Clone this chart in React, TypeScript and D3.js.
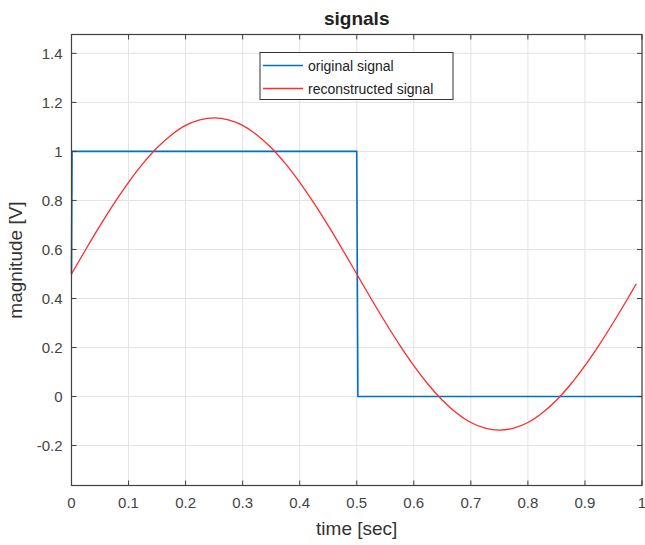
import React from 'react';
import * as d3 from 'd3';

// values
const squareT = [0, 0.001, 0.5, 0.502, 1];
const squareV = [0.5, 1, 1, 0, 0];

const reconT = [
  0, 0.025, 0.05, 0.075, 0.1, 0.125, 0.15, 0.175, 0.2, 0.225, 0.25,
  0.275, 0.3, 0.325, 0.35, 0.375, 0.4, 0.425, 0.45, 0.475, 0.5,
  0.525, 0.55, 0.575, 0.6, 0.625, 0.65, 0.675, 0.7, 0.725, 0.75,
  0.775, 0.8, 0.825, 0.85, 0.875, 0.9, 0.925, 0.95, 0.975, 0.99,
];
const reconV = [
  0.5, 0.6, 0.697, 0.789, 0.874, 0.95, 1.015, 1.067, 1.106, 1.129, 1.137,
  1.129, 1.106, 1.067, 1.015, 0.95, 0.874, 0.789, 0.697, 0.6, 0.5,
  0.4, 0.303, 0.211, 0.126, 0.05, -0.015, -0.067, -0.106, -0.129, -0.137,
  -0.129, -0.106, -0.067, -0.015, 0.05, 0.126, 0.211, 0.303, 0.4, 0.46,
];

const xTicks = [0, 0.1, 0.2, 0.3, 0.4, 0.5, 0.6, 0.7, 0.8, 0.9, 1];
const yTicks = [-0.2, 0, 0.2, 0.4, 0.6, 0.8, 1, 1.2, 1.4];
const legendLabels = ['original signal', 'reconstructed signal'];
const colors = ['#0072bd', '#ff2a2a'];

const W = 645;
const H = 545;
const left = 71.5, right = 642, top = 34.5, bottom = 485.5;
const font = '"Liberation Sans", Arial, Helvetica, sans-serif';
const axisColor = '#404040';

export default function App() {
  const x = d3.scaleLinear().domain([0, 1]).range([left, right]);
  const y = d3.scaleLinear().domain([-0.363, 1.477]).range([bottom, top]);

  const line = d3.line<[number, number]>().x(d => x(d[0])).y(d => y(d[1]));
  const smooth = d3.line<[number, number]>().x(d => x(d[0])).y(d => y(d[1])).curve(d3.curveCatmullRom);

  const squarePts = squareT.map((t, i) => [t, squareV[i]] as [number, number]);
  const reconPts = reconT.map((t, i) => [t, reconV[i]] as [number, number]);

  const fmt = (v: number) => (Math.abs(v) < 1e-9 ? '0' : String(+v.toFixed(1)));

  const lx = 260, ly = 52.5, lw = 193, lh = 47;

  return (
    <svg width={W} height={H} style={{ position: 'absolute', left: 0, top: 0, background: '#fff' }} fontFamily={font}>
      <rect x={0} y={0} width={W} height={H} fill="#fff" />
      <rect x={left} y={top} width={right - left} height={bottom - top} fill="#fff" />
      {/* grid */}
      {xTicks.map(t => (
        <line key={'gx' + t} x1={x(t)} x2={x(t)} y1={top} y2={bottom} stroke="#e3e3e3" strokeWidth={1} />
      ))}
      {yTicks.map(t => (
        <line key={'gy' + t} x1={left} x2={right} y1={y(t)} y2={y(t)} stroke="#e3e3e3" strokeWidth={1} />
      ))}
      {/* data */}
      <path d={line(squarePts) || ''} fill="none" stroke={colors[0]} strokeWidth={1.6} />
      <path d={smooth(reconPts) || ''} fill="none" stroke={colors[1]} strokeWidth={1.3} />
      {/* box */}
      <rect x={left} y={top} width={right - left} height={bottom - top} fill="none" stroke={axisColor} strokeWidth={1.2} />
      {/* ticks */}
      {xTicks.map(t => (
        <g key={'tx' + t}>
          <line x1={x(t)} x2={x(t)} y1={bottom} y2={bottom - 5} stroke={axisColor} />
          <line x1={x(t)} x2={x(t)} y1={top} y2={top + 5} stroke={axisColor} />
          <text x={x(t)} y={bottom + 22} textAnchor="middle" fontSize={15} fill="#444">{fmt(t)}</text>
        </g>
      ))}
      {yTicks.map(t => (
        <g key={'ty' + t}>
          <line x1={left} x2={left + 5} y1={y(t)} y2={y(t)} stroke={axisColor} />
          <line x1={right} x2={right - 5} y1={y(t)} y2={y(t)} stroke={axisColor} />
          <text x={left - 9} y={y(t) + 5.5} textAnchor="end" fontSize={15} fill="#444">{fmt(t)}</text>
        </g>
      ))}
      {/* labels */}
      <text x={(left + right) / 2} y={25} textAnchor="middle" fontSize={19} fontWeight="bold" fill="#222">signals</text>
      <text x={(left + right) / 2} y={535} textAnchor="middle" fontSize={19} fill="#333">time [sec]</text>
      <text transform={`translate(22,${(top + bottom) / 2}) rotate(-90)`} textAnchor="middle" fontSize={19} fill="#333">magnitude [V]</text>
      {/* legend */}
      <rect x={lx} y={ly} width={lw} height={lh} fill="#fff" stroke="#333" strokeWidth={1} />
      {legendLabels.map((lab, i) => (
        <g key={lab}>
          <line x1={lx + 3} x2={lx + 43} y1={ly + 13 + i * 23} y2={ly + 13 + i * 23} stroke={colors[i]} strokeWidth={1.3} />
          <text x={lx + 48} y={ly + 18 + i * 23} fontSize={14} fill="#222">{lab}</text>
        </g>
      ))}
    </svg>
  );
}
